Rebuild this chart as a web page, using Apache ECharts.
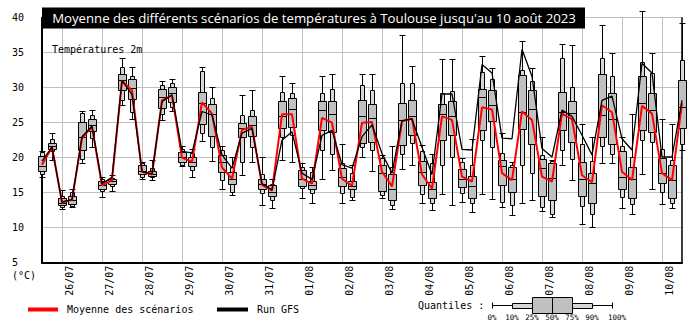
<!DOCTYPE html>
<html><head><meta charset="utf-8">
<script src="https://cdn.jsdelivr.net/npm/echarts@6/dist/echarts.min.js"></script>
<style>html,body{margin:0;padding:0;background:#fff}#c{width:700px;height:329px}</style>
</head><body><div id="c"></div>
<script>
// ---- data ----
const dayLabels = ['26/07','27/07','28/07','29/07','30/07','31/07','01/08','02/08','03/08','04/08','05/08','06/08','07/08','08/08','09/08','10/08'];
// one box every 6 h from 25/07 12h to 10/08 12h : [0%,10%,25%,50%,75%,90%,100%]
const boxes = [
[17.3,17.6,18.1,18.8,20.3,20.8,21.0],[19.7,21.0,21.3,21.7,22.1,22.6,23.5],
[12.7,13.0,13.2,13.6,14.2,14.6,15.4],[13.0,13.1,13.4,13.9,14.6,15.1,15.6],
[19.2,19.8,21.1,23.0,25.1,26.4,26.7],[21.5,22.8,23.8,24.7,25.5,26.1,26.8],
[14.4,15.3,15.6,16.1,16.7,17.0,17.3],[15.2,16.0,16.2,16.6,17.0,17.1,17.5],
[27.5,28.2,29.6,31.1,32.0,33.0,34.3],[25.5,26.5,28.4,29.9,31.3,31.7,33.0],
[16.9,17.3,17.6,18.1,19.0,19.2,19.4],[16.8,17.2,17.4,17.7,18.1,18.5,19.6],
[25.4,26.3,27.1,28.7,29.8,30.4,31.0],[26.6,27.3,27.9,29.2,30.1,30.6,31.3],
[18.8,18.9,19.4,20.1,20.8,21.2,21.6],[17.2,18.2,18.8,19.4,20.1,20.6,21.2],
[22.4,23.5,24.8,27.8,29.4,32.4,32.9],[19.5,21.5,23.1,26.2,27.7,28.5,30.1],
[15.5,16.8,18.0,19.4,20.4,21.1,21.6],[14.7,15.1,16.3,17.0,17.9,18.6,20.1],
[17.5,19.4,23.0,24.2,25.0,26.1,29.0],[19.4,21.5,23.1,24.7,26.0,26.8,29.6],
[13.2,15.0,15.5,16.2,16.9,17.6,20.1],[12.8,13.9,14.5,15.1,16.1,16.3,16.9],
[19.7,22.9,24.2,26.0,28.1,29.4,31.7],[19.4,23.3,24.4,26.9,28.5,29.2,30.6],
[14.2,15.7,16.0,17.0,18.2,18.6,19.2],[13.6,14.9,15.6,16.1,16.7,18.0,18.7],
[17.0,21.1,24.0,26.8,28.1,29.3,31.7],[18.2,20.5,23.7,26.2,28.1,29.8,32.0],
[13.6,14.9,15.9,17.3,18.5,19.3,21.9],[14.0,14.4,15.5,16.0,16.7,17.8,19.0],
[20.1,21.5,22.1,26.0,28.3,30.4,31.9],[18.1,21.1,22.3,25.6,27.7,29.7,31.9],
[14.2,14.7,15.2,17.8,19.0,20.0,20.4],[12.7,13.3,14.0,15.6,17.6,18.7,21.7],
[18.4,20.5,21.8,25.4,27.8,30.6,37.6],[19.0,22.1,23.3,25.9,28.2,30.6,33.1],
[13.5,14.8,16.1,18.0,19.5,20.9,21.8],[12.5,13.5,14.3,15.6,16.5,19.2,20.5],
[14.8,19.0,22.5,26.3,27.6,29.2,34.1],[13.3,20.1,23.3,26.0,28.1,29.5,34.1],
[13.7,15.0,15.8,17.0,18.4,19.4,19.9],[12.2,13.6,14.3,15.9,17.4,18.9,22.6],
[14.8,22.5,24.0,28.6,29.8,32.3,34.5],[14.1,21.5,25.3,27.5,29.6,31.3,32.8],
[12.9,13.7,16.1,18.8,19.7,20.6,23.5],[11.8,13.3,15.1,17.0,18.7,19.0,19.4],
[13.6,19.0,24.1,26.5,31.8,32.5,36.7],[14.0,17.8,22.0,26.9,29.7,30.9,32.8],
[12.4,13.0,14.5,18.5,19.8,20.4,23.0],[11.5,12.0,14.0,17.1,19.2,19.5,19.7],
[18.9,21.1,24.0,26.5,29.4,34.2,36.3],[16.8,19.8,22.2,26.4,28.1,30.1,36.1],
[10.5,13.1,14.5,17.0,19.4,22.0,24.8],[10.1,12.0,13.6,16.4,17.8,19.5,22.9],
[19.2,21.7,23.0,26.1,32.0,34.3,39.0],[19.3,20.5,22.0,25.5,29.3,31.6,35.0],
[12.8,14.4,15.5,17.2,20.9,21.6,23.0],[12.0,13.4,14.2,16.9,18.6,20.1,26.3],
[17.7,22.5,23.9,27.8,31.7,33.6,41.0],[15.5,22.3,23.7,26.8,29.3,32.1,34.9],
[13.4,15.1,16.4,17.8,19.9,21.2,25.5],[12.8,13.6,14.3,16.8,19.0,19.6,24.8],
[21.1,22.0,24.3,27.2,31.1,33.9,39.3]
];
const meanScenarios = [19.0,21.5,13.6,14.0,22.8,24.4,16.0,16.8,31.0,29.6,
18.0,17.6,28.2,28.9,20.0,19.4,27.9,26.3,18.6,17.0,
24.0,24.4,16.1,15.3,26.2,26.2,17.0,16.3,25.7,25.0,
17.0,16.0,25.0,25.1,18.0,15.9,25.2,25.6,17.6,15.6,
25.9,25.4,17.3,16.6,27.2,26.9,17.8,16.8,26.6,25.4,
17.3,16.6,26.3,25.5,17.5,16.5,27.5,26.5,18.0,16.8,
27.4,26.3,17.8,16.8,27.8];
const runGFS = [19.5,21.5,13.7,14.0,23.0,24.5,16.3,17.2,31.0,29.0,
18.0,17.7,28.0,29.0,20.9,20.7,26.6,26.1,20.4,18.5,
23.5,24.2,16.3,15.4,22.5,23.7,17.8,16.9,23.2,23.9,
19.0,18.5,23.0,24.7,20.6,17.8,25.3,25.5,21.5,17.6,
29.1,29.1,21.2,21.1,33.3,32.1,22.8,22.7,35.5,31.6,
21.3,20.1,26.8,25.9,23.2,20.4,28.2,28.8,22.7,21.1,
33.5,32.1,20.1,20.1,28.2];
const quantileLabels = ['0%','10%','25%','50%','75%','90%','100%'];
const titleText = "Moyenne des différents scénarios de températures à Toulouse jusqu'au 10 août 2023";

// ---- chart ----
const MONO = '"DejaVu Sans Mono", monospace';
const n = boxes.length;
const cats = boxes.map((b, i) => String(i));
const isDay = i => i >= 2 && (i - 2) % 4 === 0;
const labelFor = i => isDay(i) ? ' \n' + dayLabels[(i - 2) / 4] : '';

const chart = echarts.init(document.getElementById('c'), null, {renderer: 'svg'});

function renderBox(params, api) {
  const i = api.value(0);
  const v = [1,2,3,4,5,6,7].map(k => api.value(k));
  const p = val => api.coord([i, val]);
  const x = Math.round(p(v[0])[0]) + 0.5;
  const y = v.map(val => Math.round(p(val)[1]) + 0.5);
  const stroke = {stroke: '#000', lineWidth: 1};
  return {type: 'group', children: [
    {type: 'line', shape: {x1: x, y1: y[6], x2: x, y2: y[0]}, style: stroke},
    {type: 'line', shape: {x1: x - 3, y1: y[6], x2: x + 3, y2: y[6]}, style: stroke},
    {type: 'line', shape: {x1: x - 3, y1: y[0], x2: x + 3, y2: y[0]}, style: stroke},
    {type: 'rect', shape: {x: x - 2, y: y[5], width: 4, height: y[1] - y[5]}, style: {fill: '#d6d6d6', stroke: '#000', lineWidth: 1}},
    {type: 'rect', shape: {x: x - 4, y: y[4], width: 8, height: y[2] - y[4]}, style: {fill: '#c0c0c0', stroke: '#000', lineWidth: 1}},
    {type: 'line', shape: {x1: x - 4, y1: y[3], x2: x + 4, y2: y[3]}, style: stroke}
  ]};
}

const qx = [492, 512, 532, 552, 572, 592, 612];
const graphics = [
  {type: 'rect', shape: {x: 42, y: 7.5, width: 543, height: 21}, style: {fill: '#000'}, z: 100},
  {type: 'text', x: 314, y: 18, style: {text: titleText, fill: '#fff', font: '13.2px "Open Sans"', textAlign: 'center', textVerticalAlign: 'middle'}, z: 101},
  {type: 'text', x: 52, y: 49, style: {text: 'Températures 2m', fill: '#000', font: '10px ' + MONO, textVerticalAlign: 'middle'}, z: 50},
  {type: 'text', x: 12, y: 275, style: {text: '(°C)', fill: '#000', font: '10px ' + MONO, textVerticalAlign: 'middle'}},
  {type: 'rect', shape: {x: 28, y: 307.5, width: 30, height: 4}, style: {fill: '#ff0000'}},
  {type: 'text', x: 67, y: 309.5, style: {text: 'Moyenne des scénarios', fill: '#000', font: '10px ' + MONO, textVerticalAlign: 'middle'}},
  {type: 'rect', shape: {x: 217, y: 307.5, width: 31, height: 4}, style: {fill: '#000'}},
  {type: 'text', x: 257, y: 309.5, style: {text: 'Run GFS', fill: '#000', font: '10px ' + MONO, textVerticalAlign: 'middle'}},
  {type: 'text', x: 418, y: 305.5, style: {text: 'Quantiles :', fill: '#000', font: '10px ' + MONO, textVerticalAlign: 'middle'}},
  {type: 'line', shape: {x1: qx[0], y1: 305.5, x2: qx[6], y2: 305.5}, style: {stroke: '#000', lineWidth: 1}},
  {type: 'line', shape: {x1: qx[0] + 0.5, y1: 302.5, x2: qx[0] + 0.5, y2: 308.5}, style: {stroke: '#000', lineWidth: 1}},
  {type: 'line', shape: {x1: qx[6] + 0.5, y1: 302.5, x2: qx[6] + 0.5, y2: 308.5}, style: {stroke: '#000', lineWidth: 1}},
  {type: 'rect', shape: {x: qx[1] + 0.5, y: 303.5, width: qx[5] - qx[1], height: 5}, style: {fill: '#d6d6d6', stroke: '#000', lineWidth: 1}},
  {type: 'rect', shape: {x: qx[2] + 0.5, y: 297.5, width: qx[4] - qx[2], height: 16}, style: {fill: '#c0c0c0', stroke: '#000', lineWidth: 1}},
  {type: 'line', shape: {x1: qx[3] + 0.5, y1: 297.5, x2: qx[3] + 0.5, y2: 313.5}, style: {stroke: '#000', lineWidth: 1}}
];
quantileLabels.forEach((t, k) => graphics.push({type: 'text', x: qx[k] + (k === 6 ? 5 : 0), y: 317.5,
  style: {text: t, fill: '#000', font: '7.5px ' + MONO, textAlign: 'center', textVerticalAlign: 'middle'}}));

chart.setOption({
  animation: false,
  backgroundColor: '#fff',
  grid: {left: 42, right: 18, top: 17.7, bottom: 66.3, containLabel: false},
  xAxis: [
    {type: 'category', data: cats, boundaryGap: false,
     axisLine: {show: true, lineStyle: {color: '#000', width: 2}},
     axisTick: {show: false},
     splitLine: {show: true, interval: (idx) => isDay(idx), lineStyle: {color: '#c0c0c0', width: 1}},
     axisLabel: {show: true, interval: 0, rotate: 90, margin: 3, lineHeight: 14,
       formatter: (v, idx) => labelFor(idx), fontFamily: MONO, fontSize: 10, color: '#000'}},
    {type: 'value', min: 0, max: n - 1, show: false}
  ],
  yAxis: [
    {type: 'value', min: 5, max: 40, interval: 5,
     axisLine: {show: true, lineStyle: {color: '#000', width: 2}},
     axisTick: {show: false},
     splitLine: {show: true, lineStyle: {color: '#c0c0c0', width: 1}},
     axisLabel: {align: 'left', margin: 30, fontFamily: MONO, fontSize: 10, color: '#000'}},
    {type: 'value', min: 5, max: 40, interval: 5, position: 'right',
     axisLine: {show: true, lineStyle: {color: '#000', width: 1.5}},
     axisTick: {show: false}, axisLabel: {show: false}, splitLine: {show: false}}
  ],
  series: [
    {type: 'custom', name: 'Quantiles', xAxisIndex: 1, yAxisIndex: 0, renderItem: renderBox, clip: false,
     data: boxes.map((b, i) => [i].concat(b)), encode: {x: 0, y: [1,2,3,4,5,6,7]}, z: 3},
    {type: 'line', name: 'Moyenne des scénarios', xAxisIndex: 1, yAxisIndex: 0, showSymbol: false,
     data: meanScenarios.map((v, i) => [i, v]), lineStyle: {color: '#ff0000', width: 2}, z: 4},
    {type: 'line', name: 'Run GFS', xAxisIndex: 1, yAxisIndex: 0, showSymbol: false,
     data: runGFS.map((v, i) => [i, v]), lineStyle: {color: '#000', width: 1.3}, z: 5}
  ],
  graphic: graphics
});
</script></body></html>
